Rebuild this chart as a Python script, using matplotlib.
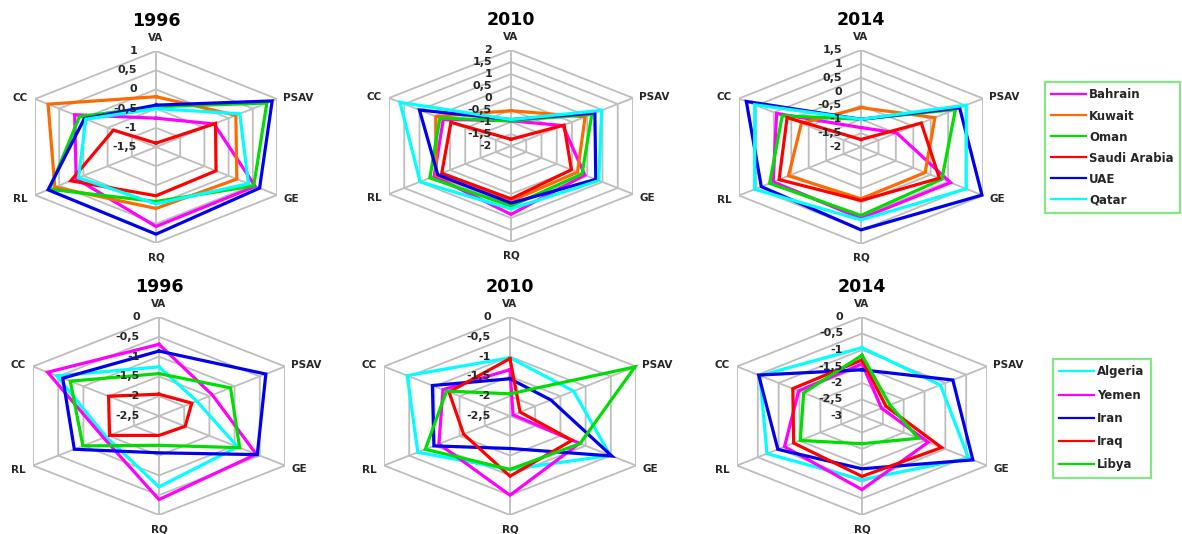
import numpy as np
import matplotlib.pyplot as plt
from matplotlib.lines import Line2D

plt.rcParams['font.family'] = 'DejaVu Sans'

spokes = ['VA', 'PSAV', 'GE', 'RQ', 'RL', 'CC']

gcc_names = ['Bahrain', 'Kuwait', 'Oman', 'Saudi Arabia', 'UAE', 'Qatar']
gcc_colors = ['#ff00ff', '#ff6a00', '#00dd00', '#ff0000', '#0000ee', '#00ffff']

# VA, PSAV, GE, RQ, RL, CC per country
gcc_1996 = [
    [-0.75, -0.30, 0.55, 0.57, 0.15, 0.18],
    [-0.19, 0.15, 0.17, 0.10, 0.59, 0.73],
    [-0.45, 0.79, 0.52, -0.08, 0.70, 0.08],
    [-1.40, -0.27, -0.26, -0.23, 0.26, -0.62],
    [-0.41, 0.90, 0.64, 0.77, 0.73, -0.02],
    [-0.50, 0.23, 0.41, -0.02, 0.10, -0.05],
]
gcc_2010 = [
    [-0.95, -0.30, 0.42, 0.85, 0.52, 0.22],
    [-0.53, 0.43, 0.18, 0.30, 0.45, 0.46],
    [-0.95, 0.65, 0.33, 0.50, 0.66, 0.33],
    [-1.72, -0.26, -0.02, 0.20, 0.27, -0.03],
    [-0.90, 0.75, 0.78, 0.38, 0.40, 1.00],
    [-0.90, 0.97, 0.88, 0.62, 0.98, 1.64],
]
gcc_2014 = [
    [-1.30, -0.98, 0.57, 0.58, 0.52, 0.42],
    [-0.58, 0.12, -0.16, -0.13, 0.08, -0.29],
    [-1.00, 0.71, 0.32, 0.47, 0.62, 0.26],
    [-1.73, -0.27, 0.25, -0.07, 0.35, 0.12],
    [-1.00, 0.83, 1.47, 0.99, 0.86, 1.29],
    [-1.00, 1.02, 1.02, 0.63, 1.05, 1.05],
]

other_names = ['Algeria', 'Yemen', 'Iran', 'Iraq', 'Libya']
other_colors = ['#00ffff', '#ff00ff', '#0000ee', '#ff0000', '#00dd00']

other_1996 = [
    [-1.26, -1.75, -0.94, -0.71, -1.45, -0.47],
    [-0.69, -1.44, -0.57, -0.39, -1.40, -0.29],
    [-0.86, -0.38, -0.55, -1.57, -0.82, -0.59],
    [-1.95, -1.85, -1.98, -2.01, -1.52, -1.50],
    [-1.43, -1.08, -0.90, -1.76, -0.99, -0.74],
]
other_2010 = [
    [-1.03, -1.24, -0.51, -1.15, -0.67, -0.46],
    [-1.33, -2.44, -1.12, -0.50, -1.09, -1.17],
    [-1.56, -1.69, -0.48, -1.68, -0.99, -0.96],
    [-1.05, -2.30, -1.27, -0.98, -1.58, -1.29],
    [-1.94, -0.02, -1.11, -1.15, -0.82, -1.24],
]
other_2014 = [
    [-0.93, -1.12, -0.44, -1.07, -0.72, -0.55],
    [-1.42, -2.53, -1.41, -0.77, -1.14, -1.48],
    [-1.60, -0.82, -0.34, -1.40, -0.98, -0.52],
    [-1.30, -2.42, -1.09, -1.17, -1.36, -1.34],
    [-1.16, -2.33, -1.65, -2.16, -1.52, -1.60],
]

W_PX, H_PX = 1182, 534
fig = plt.figure(figsize=(W_PX / 100, H_PX / 100), dpi=100)

GRID = '#bdbdbd'
TXT = '#262626'
theta = np.arange(6) * np.pi / 3  # VA on top, going clockwise
S60 = np.sin(np.pi / 3)
PT = 0.72  # points per pixel at 100 dpi


def hex_xy(frac):
    frac = np.append(frac, frac[0])
    th = np.append(theta, theta[0])
    return frac * np.sin(th) / S60, frac * np.cos(th)


def fmt(v):
    s = '{:g}'.format(round(v, 2))
    return s.replace('.', ',')


# text offsets (pixels) for spoke labels: dx, dy, ha
label_pos = [(0, 13, 'center'), (6, 1, 'left'), (7, -4, 'left'),
             (0, -14, 'center'), (-7, -4, 'right'), (-7, 1, 'right')]


def radar(center, rv, rh, title, lo, hi, rows, colors):
    cx, cy = center
    ax = fig.add_axes([(cx - rh) / W_PX, 1 - (cy + rv) / H_PX,
                       2 * rh / W_PX, 2 * rv / H_PX])
    ax.set_xlim(-1, 1)
    ax.set_ylim(-1, 1)
    ax.axis('off')

    levels = np.arange(lo, hi + 1e-9, 0.5)
    for lv in levels[1:]:
        x, y = hex_xy(np.full(6, (lv - lo) / (hi - lo)))
        ax.plot(x, y, color=GRID, lw=1.3, zorder=1)
    for th in theta:
        ax.plot([0, np.sin(th) / S60], [0, np.cos(th)], color=GRID, lw=1.3, zorder=1)

    for row, c in zip(rows, colors):
        f = (np.array(row) - lo) / (hi - lo)
        x, y = hex_xy(f)
        ax.plot(x, y, color=c, lw=2.3, solid_joinstyle='miter', zorder=3, clip_on=False)

    for lv in levels:
        ax.annotate(fmt(lv), xy=(0, (lv - lo) / (hi - lo)), xytext=(-19 * PT, 0),
                    textcoords='offset points', ha='right', va='center',
                    fontsize=8, fontweight='bold', color=TXT, zorder=4)

    for name, th, (dx, dy, ha) in zip(spokes, theta, label_pos):
        ax.annotate(name, xy=(np.sin(th) / S60, np.cos(th)), xytext=(dx * PT, dy * PT),
                    textcoords='offset points', ha=ha, va='center',
                    fontsize=7.5, fontweight='bold', color=TXT)

    ax.annotate(title, xy=(0, 1), xytext=(0, 30 * PT), textcoords='offset points',
                ha='center', va='center', fontsize=12.5, fontweight='bold', color='black')
    return ax


radar((156, 147), 96, 121, '1996', -1.5, 1.0, gcc_1996, gcc_colors)
radar((511, 146), 96, 122, '2010', -2.0, 2.0, gcc_2010, gcc_colors)
radar((861, 147), 97, 122, '2014', -2.0, 1.5, gcc_2014, gcc_colors)
radar((159, 416), 99, 126, '1996', -2.5, 0.0, other_1996, other_colors)
radar((510, 416), 99, 126, '2010', -2.5, 0.0, other_2010, other_colors)
radar((862, 416), 99, 125, '2014', -3.0, 0.0, other_2014, other_colors)


def legend(names, colors, left, top, spacing):
    handles = [Line2D([], [], color=c, lw=1.6) for c in colors]
    leg = fig.legend(handles, names, loc='upper left',
                     bbox_to_anchor=(left / W_PX, 1 - top / H_PX),
                     borderaxespad=0, frameon=True, fancybox=False,
                     edgecolor='#66e066', handlelength=2.9, handletextpad=0.3,
                     labelspacing=spacing, borderpad=0.55,
                     prop={'weight': 'bold', 'size': 8.5})
    leg.get_frame().set_linewidth(1.6)
    for t in leg.get_texts():
        t.set_color(TXT)
    return leg


legend(gcc_names, gcc_colors, 1045, 82, 0.68)
legend(other_names, other_colors, 1053, 359, 0.86)

fig.savefig('out.png', dpi=100, facecolor='white')
